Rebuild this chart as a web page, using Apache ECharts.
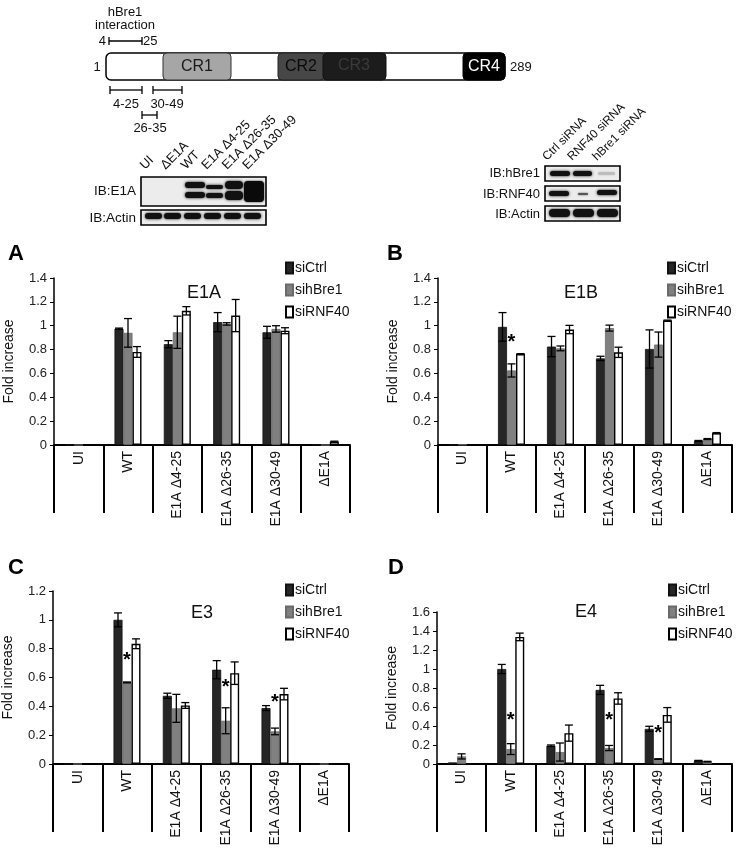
<!DOCTYPE html>
<html><head><meta charset="utf-8">
<script src="https://cdn.jsdelivr.net/npm/echarts@6/dist/echarts.min.js"></script>
<style>html,body{margin:0;padding:0;background:#fff}#c{width:738px;height:851px}</style>
</head><body><div id="c"></div>
<script>
const FONT = 'Liberation Sans, Arial, sans-serif';
const categories = ['UI','WT','E1A Δ4-25','E1A Δ26-35','E1A Δ30-49','ΔE1A'];
const seriesNames = ['siCtrl','sihBre1','siRNF40'];
const yTicksMaxA = 1.4, yTicksMaxB = 1.4, yTicksMaxC = 1.2, yTicksMaxD = 1.6;

// Panel A: E1A
const A_siCtrl  = [0, 0.975, 0.845, 1.03, 0.945, 0];
const A_siCtrlErr = [0, 0.005, 0.03, 0.08, 0.05, 0];
const A_sihBre1 = [0, 0.94, 0.945, 1.015, 0.973, 0];
const A_sihBre1Err = [0, 0.12, 0.135, 0.01, 0.027, 0];
const A_siRNF40 = [0, 0.78, 1.125, 1.085, 0.958, 0.028];
const A_siRNF40Err = [0, 0.045, 0.035, 0.135, 0.025, 0.004];
const A_stars = [];

// Panel B: E1B
const B_siCtrl  = [0, 0.99, 0.825, 0.726, 0.805, 0.034];
const B_siCtrlErr = [0, 0.12, 0.085, 0.018, 0.16, 0.004];
const B_sihBre1 = [0.004, 0.625, 0.81, 0.98, 0.842, 0.05];
const B_sihBre1Err = [0, 0.055, 0.02, 0.025, 0.105, 0.004];
const B_siRNF40 = [0, 0.763, 0.968, 0.777, 1.043, 0.1];
const B_siRNF40Err = [0, 0.003, 0.035, 0.043, 0.004, 0.004];
const B_stars = [[1, 0.86]];

// Panel C: E3
const C_siCtrl  = [0, 1.0, 0.473, 0.654, 0.388, 0];
const C_siCtrlErr = [0, 0.048, 0.018, 0.063, 0.017, 0];
const C_sihBre1 = [0, 0.566, 0.386, 0.3, 0.226, 0];
const C_sihBre1Err = [0, 0.003, 0.097, 0.09, 0.023, 0];
const C_siRNF40 = [0, 0.834, 0.406, 0.63, 0.485, 0];
const C_siRNF40Err = [0, 0.034, 0.02, 0.078, 0.04, 0];
const C_stars = [[1, 0.72], [3, 0.53], [4, 0.425]];

// Panel D: E4
const D_siCtrl  = [0.017, 1.0, 0.192, 0.78, 0.37, 0.035];
const D_siCtrlErr = [0, 0.048, 0.008, 0.048, 0.027, 0.003];
const D_sihBre1 = [0.08, 0.157, 0.126, 0.168, 0.052, 0.025];
const D_sihBre1Err = [0.027, 0.057, 0.095, 0.027, 0.003, 0.003];
const D_siRNF40 = [0, 1.338, 0.325, 0.69, 0.517, 0];
const D_siRNF40Err = [0, 0.04, 0.085, 0.06, 0.077, 0];
const D_stars = [[1, 0.455], [3, 0.46], [4, 0.32]];

const panels = [
  {grid:{left:54, top:278, width:296, height:167}, max:yTicksMaxA, vals:[A_siCtrl,A_sihBre1,A_siRNF40], errs:[A_siCtrlErr,A_sihBre1Err,A_siRNF40Err], stars:A_stars, legend:{left:285, top:261}},
  {grid:{left:438, top:278, width:294, height:167}, max:yTicksMaxB, vals:[B_siCtrl,B_sihBre1,B_siRNF40], errs:[B_siCtrlErr,B_sihBre1Err,B_siRNF40Err], stars:B_stars, legend:{left:667, top:261}},
  {grid:{left:53, top:591, width:296, height:173}, max:yTicksMaxC, vals:[C_siCtrl,C_sihBre1,C_siRNF40], errs:[C_siCtrlErr,C_sihBre1Err,C_siRNF40Err], stars:C_stars, legend:{left:285, top:583}},
  {grid:{left:437, top:612, width:295, height:152}, max:yTicksMaxD, vals:[D_siCtrl,D_sihBre1,D_siRNF40], errs:[D_siCtrlErr,D_sihBre1Err,D_siRNF40Err], stars:D_stars, legend:{left:668, top:583}}
];

const BW = 9;
const barStyles = [
  {color:'#262626', borderColor:'#111', borderWidth:0.8},
  {color:'#808080', borderColor:'#6a6a6a', borderWidth:0.8},
  {color:'#ffffff', borderColor:'#000', borderWidth:1.4}
];

function errRender(off){
  return function(params, api){
    const i = api.value(0);
    const lo = api.coord([i, api.value(1)]);
    const hi = api.coord([i, api.value(2)]);
    const x = lo[0] + off*BW;
    const cap = 4;
    const st = {stroke:'#000', lineWidth:1.3};
    return {type:'group', children:[
      {type:'line', shape:{x1:x,y1:lo[1],x2:x,y2:hi[1]}, style:st},
      {type:'line', shape:{x1:x-cap,y1:lo[1],x2:x+cap,y2:lo[1]}, style:st},
      {type:'line', shape:{x1:x-cap,y1:hi[1],x2:x+cap,y2:hi[1]}, style:st}
    ]};
  };
}
function starRender(params, api){
  const p = api.coord([api.value(0), api.value(1)]);
  return {type:'text', x:p[0], y:p[1], style:{text:'*', fontSize:20, fontWeight:'bold', fontFamily:FONT, fill:'#000', align:'center', verticalAlign:'middle'}};
}

const grids=[], xAxes=[], yAxes=[], series=[], legends=[];
panels.forEach((p, gi) => {
  grids.push(p.grid);
  xAxes.push({type:'category', gridIndex:gi, data:categories, boundaryGap:true,
    axisLine:{lineStyle:{color:'#000', width:2}},
    axisTick:{show:true, interval:0, length:68, lineStyle:{color:'#000', width:2}},
    axisLabel:{interval:0, rotate:90, fontSize:14, color:'#111', fontFamily:FONT, margin:6},
    splitLine:{show:false}});
  yAxes.push({type:'value', gridIndex:gi, min:0, max:p.max, interval:0.2,
    name:'Fold increase', nameLocation:'middle', nameRotate:90, nameGap:38,
    nameTextStyle:{fontSize:14, color:'#111', fontFamily:FONT},
    axisLine:{show:true, lineStyle:{color:'#000', width:1.5}},
    axisTick:{show:true, length:4, lineStyle:{color:'#000'}},
    axisLabel:{fontSize:13, color:'#222', fontFamily:FONT, margin:7},
    splitLine:{show:false}});
  seriesNames.forEach((nm, si) => {
    series.push({type:'bar', name:nm, xAxisIndex:gi, yAxisIndex:gi, data:p.vals[si],
      barWidth:BW, barGap:'0%', itemStyle:barStyles[si], silent:true, animation:false});
  });
  seriesNames.forEach((nm, si) => {
    const d = [];
    p.vals[si].forEach((v, i) => { if (p.errs[si][i] > 0) d.push([i, v - p.errs[si][i], v + p.errs[si][i]]); });
    series.push({type:'custom', xAxisIndex:gi, yAxisIndex:gi, data:d, renderItem:errRender(si-1), silent:true, animation:false, z:5});
  });
  series.push({type:'custom', xAxisIndex:gi, yAxisIndex:gi, data:p.stars, renderItem:starRender, silent:true, animation:false, z:6});
  legends.push({orient:'vertical', left:p.legend.left, top:p.legend.top, padding:0, itemGap:8,
    itemWidth:7, itemHeight:11, icon:'rect', selectedMode:false, data:seriesNames,
    textStyle:{fontSize:14, color:'#111', fontFamily:FONT, padding:[0,0,0,-3]}});
});

// ---------- decorative schematic & blots ----------
const G = [];
function txt(x, y, s, o){ G.push({type:'text', x, y, silent:true, style:Object.assign({text:s, fontSize:12.5, fontFamily:FONT, fill:'#111', align:'center', verticalAlign:'middle'}, o||{})}); }
function ln(x1,y1,x2,y2,w){ G.push({type:'line', silent:true, shape:{x1,y1,x2,y2}, style:{stroke:'#000', lineWidth:w||1.3}}); }
function seg(x1,x2,y){ ln(x1,y,x2,y); ln(x1,y-4,x1,y+4); ln(x2,y-4,x2,y+4); }
function rect(x,y,w,h,fill,stroke,lw,r){ G.push({type:'rect', silent:true, shape:{x,y,width:w,height:h,r:r||0}, style:{fill, stroke, lineWidth:lw||0}}); }
function band(x,y,w,h,c,blur){ G.push({type:'rect', silent:true, shape:{x,y,width:w,height:h,r:Math.min(h/2,4)}, style:{fill:c||'#111', shadowBlur:blur==null?3:blur, shadowColor:c||'#111'}}); }

// schematic
txt(125, 12, 'hBre1', {fontSize:13}); txt(125, 25, 'interaction', {fontSize:13});
txt(106, 41, '4', {align:'right', fontSize:13});
seg(109, 142, 41);
txt(143, 41, '25', {align:'left', fontSize:13});
rect(106, 53, 399, 27, '#fff', '#000', 1.5, 5);
rect(163, 53, 68, 27, '#a6a6a6', '#333', 1, 4);
rect(278, 53, 46, 27, '#474747', '#222', 1, 4);
rect(323, 53, 63, 27, '#1c1c1c', '#111', 1, 4);
rect(463, 53, 42, 27, '#000', '#000', 1, 4);
txt(197, 67, 'CR1', {fontSize:16, fill:'#1a1a1a'});
txt(301, 67, 'CR2', {fontSize:16, fill:'#0a0a0a'});
txt(354, 66, 'CR3', {fontSize:16, fill:'#3a3a3a'});
txt(484, 67, 'CR4', {fontSize:16, fill:'#fff'});
txt(97, 67, '1', {fontSize:13});
txt(510, 67, '289', {fontSize:13, align:'left'});
seg(110, 142, 90); seg(153, 182, 90);
txt(126, 104, '4-25', {fontSize:13}); txt(167, 104, '30-49', {fontSize:13});
seg(142, 157, 115);
txt(150, 128, '26-35', {fontSize:13});

// blot 1
const lanes1 = ['UI','ΔE1A','WT','E1A Δ4-25','E1A Δ26-35','E1A Δ30-49'];
lanes1.forEach((s, i) => {
  G.push({type:'text', x:147 + i*20.5, y:172, rotation:Math.PI/4, silent:true,
    style:{text:s, fontSize:13, fontFamily:FONT, fill:'#111', align:'left', verticalAlign:'bottom'}});
});
rect(141, 177, 125, 29, '#ececec', '#000', 1.6);
band(185, 182, 20, 6); band(185, 192, 20, 6);
band(206, 185, 17, 4); band(206, 193, 17, 5);
band(225, 181, 18, 8); band(225, 191, 18, 9);
band(244, 181, 20, 21, '#0a0a0a', 2);
rect(141, 210, 125, 15, '#ececec', '#000', 1.6);
[145,164,184,204,224,244].forEach((x) => band(x, 213, 17, 6));
txt(136, 191, 'IB:E1A', {align:'right', fontSize:13.5});
txt(136, 218, 'IB:Actin', {align:'right', fontSize:13.5});

// blot 2
const lanes2 = ['Ctrl siRNA','RNF40 siRNA','hBre1 siRNA'];
lanes2.forEach((s, i) => {
  G.push({type:'text', x:549 + i*25, y:163, rotation:Math.PI/4, silent:true,
    style:{text:s, fontSize:12, fontFamily:FONT, fill:'#111', align:'left', verticalAlign:'bottom'}});
});
rect(545, 166, 75, 15, '#ececec', '#000', 1.6);
band(550, 171, 20, 5); band(573, 171, 19, 5); band(598, 172, 17, 3, '#bdbdbd', 2);
rect(545, 186, 75, 15, '#ececec', '#000', 1.6);
band(549, 191, 20, 5); band(578, 193, 10, 2, '#555', 2); band(597, 190, 20, 5);
rect(545, 206, 75, 15, '#ececec', '#000', 1.6);
band(549, 209, 21, 8); band(573, 209, 21, 8); band(597, 209, 21, 8);
txt(540, 173, 'IB:hBre1', {align:'right', fontSize:13});
txt(540, 194, 'IB:RNF40', {align:'right', fontSize:13});
txt(540, 214, 'IB:Actin', {align:'right', fontSize:13});

// panel letters & titles
[['A',16,254],['B',395,254],['C',16,568],['D',396,568]].forEach(([s,x,y]) => txt(x, y, s, {fontSize:22, fontWeight:'bold', fill:'#000'}));
txt(204, 293, 'E1A', {fontSize:18});
txt(581, 293, 'E1B', {fontSize:18});
txt(202, 613, 'E3', {fontSize:18});
txt(586, 612, 'E4', {fontSize:18});

const chart = echarts.init(document.getElementById('c'), null, {renderer:'canvas'});
chart.setOption({
  animation:false, backgroundColor:'#fff',
  textStyle:{fontFamily:FONT},
  grid:grids, xAxis:xAxes, yAxis:yAxes, legend:legends, series:series,
  graphic:G
});
</script></body></html>
